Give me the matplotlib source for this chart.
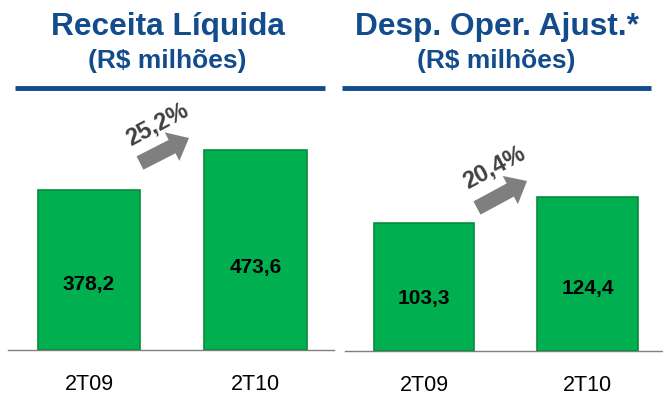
import matplotlib
matplotlib.use("Agg")
import matplotlib.pyplot as plt
import matplotlib.patches as mpatches

plt.rcParams['font.family'] = ['Liberation Sans', 'DejaVu Sans']

# data
periods = ["2T09", "2T10"]
receita = [378.2, 473.6]
despesa = [103.3, 124.4]
receita_labels = ["378,2", "473,6"]
despesa_labels = ["103,3", "124,4"]
receita_growth = "25,2%"
despesa_growth = "20,4%"

W, H = 663, 405
BLUE = "#134C8C"
GREEN = "#00B050"
GRAY = "#7F7F7F"

fig = plt.figure(figsize=(W / 100, H / 100), dpi=100)


def px_axes(x0, y_top, x1, y_base):
    # axes rectangle given in pixel coords (y from top)
    return fig.add_axes([x0 / W, 1 - y_base / H, (x1 - x0) / W, (y_base - y_top) / H])


def bar_panel(ax, values, labels, ymax, xlim):
    ax.bar(range(len(values)), values, width=0.615, color=GREEN,
           edgecolor="#0B8A3C", linewidth=1.2, zorder=3)
    for i, (v, lab) in enumerate(zip(values, labels)):
        ax.text(i, v * 0.41, lab, ha="center", va="center",
                fontsize=15, fontweight="bold", color="black", zorder=4)
    ax.set_xlim(*xlim)
    ax.set_ylim(0, ymax)
    ax.set_xticks(range(len(values)))
    ax.set_xticklabels(periods, fontsize=15.5)
    ax.tick_params(axis="x", length=0, pad=17)
    ax.set_yticks([])
    for s in ["top", "left", "right"]:
        ax.spines[s].set_visible(False)
    ax.spines["bottom"].set_color(GRAY)
    ax.spines["bottom"].set_linewidth(1.0)
    ax.patch.set_alpha(0)


ax1 = px_axes(8, 88, 334, 350)
bar_panel(ax1, receita, receita_labels, 620, (-0.486, 1.471))

ax2 = px_axes(345, 88, 663, 351)
bar_panel(ax2, despesa, despesa_labels, 213, (-0.483, 1.462))

# overlay for titles, rules and arrows (pixel coordinates)
ov = fig.add_axes([0, 0, 1, 1])
ov.set_xlim(0, W)
ov.set_ylim(H, 0)
ov.axis("off")
ov.patch.set_alpha(0)

ov.text(168, 35, "Receita Líquida", ha="center", va="baseline",
        fontsize=22.8, fontweight="bold", color=BLUE)
ov.text(167, 68, "(R$ milhões)", ha="center", va="baseline",
        fontsize=19, fontweight="bold", color=BLUE)
ov.text(497, 35, "Desp. Oper. Ajust.*", ha="center", va="baseline",
        fontsize=22.8, fontweight="bold", color=BLUE)
ov.text(496, 68, "(R$ milhões)", ha="center", va="baseline",
        fontsize=19, fontweight="bold", color=BLUE)

ov.plot([15, 325], [88, 88], color=BLUE, lw=3.5, solid_capstyle="butt")
ov.plot([342, 651], [88, 88], color=BLUE, lw=3.5, solid_capstyle="butt")

# growth arrows
for (x0, y0, x1, y1), (tx, ty), txt in [((140, 163, 189, 138), (157, 124), receita_growth),
                                         ((477, 208, 527, 181), (494, 167), despesa_growth)]:
    ov.add_patch(mpatches.FancyArrow(x0, y0, x1 - x0, y1 - y0, width=15,
                                     head_width=32, head_length=19,
                                     length_includes_head=True,
                                     color=GRAY, lw=0))
    ov.text(tx, ty, txt, ha="center", va="center", rotation=28,
            fontsize=17, fontweight="bold", color="#404040")

fig.savefig("out.png", dpi=100)
